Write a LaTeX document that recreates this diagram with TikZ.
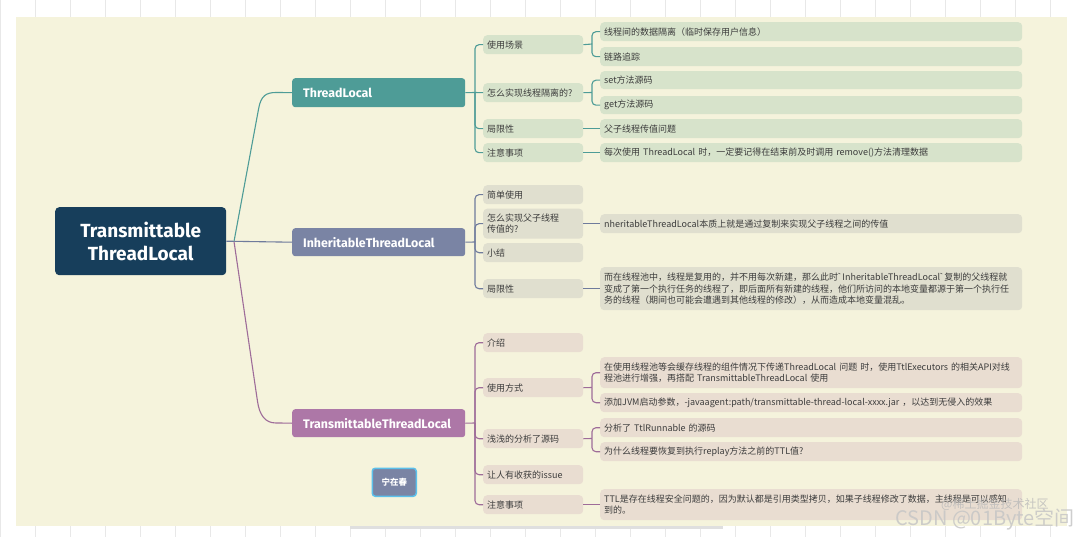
\documentclass[tikz,border=0pt]{standalone}
\usepackage{fontspec}
\setmainfont{Noto Sans CJK SC}
\newfontfamily\fira{Fira Sans}
\definecolor{cream}{HTML}{F5F3DC}
\definecolor{gridc}{HTML}{E8E8E8}
\definecolor{rootc}{HTML}{173E5B}
\definecolor{tlc}{HTML}{4E9C97}
\definecolor{inc}{HTML}{7A84A4}
\definecolor{ttc}{HTML}{AD77A7}
\definecolor{tlbox}{HTML}{D7E3CB}
\definecolor{inbox}{HTML}{E0DFCF}
\definecolor{ttbox}{HTML}{E9DDD1}
\definecolor{txt}{HTML}{3C3C3C}
\definecolor{tlln}{HTML}{4E9C97}
\definecolor{inln}{HTML}{6F7B9C}
\definecolor{ttln}{HTML}{9E6C99}
\definecolor{signb}{HTML}{5BC0EB}
\tikzset{
  topic/.style={anchor=north west, rounded corners=3pt, text width=151pt, inner xsep=11pt, inner ysep=0pt,
    minimum height=29pt, align=left, text=white, font=\fira\bfseries\fontsize{12.4}{14}\selectfont},
  sub/.style={anchor=north west, rounded corners=4pt, text width=92pt, inner xsep=4pt, inner ysep=0pt,
    minimum height=19pt, align=left, text=txt, font=\fontsize{9}{11.5}\selectfont},
  leaf/.style={sub, text width=414pt},
  conn/.style={line width=1.1pt, rounded corners=4pt},
  tlconn/.style={conn, draw=tlln},
  inconn/.style={conn, draw=inln},
  ttconn/.style={conn, draw=ttln},
}
\begin{document}
\begin{tikzpicture}[x=1pt,y=-1pt]
\useasboundingbox (0,0) rectangle (1083,537);
\fill[white] (0,0) rectangle (1083,537);
\foreach \x in {0,35,...,1085} \draw[gridc, line width=0.8pt] (\x,0) -- (\x,537);
\fill[cream] (16,17) rectangle (1067,526);
\fill[gray!25] (350,526) rectangle (723,529);

% root and topics
\node[anchor=north west, fill=rootc, rounded corners=4pt, minimum width=171pt, minimum height=68pt,
  align=center, text=white, font=\fira\bfseries\fontsize{19}{23}\selectfont] (root) at (55,207) {Transmittable\\ThreadLocal};
\node[topic, fill=tlc] (tl) at (292,78) {ThreadLocal};
\node[topic, fill=inc, minimum height=28pt] (inh) at (292,228) {InheritableThreadLocal};
\node[topic, fill=ttc, minimum height=28pt] (ttl) at (292,409) {TransmittableThreadLocal};
\node[anchor=north west, fill=inc, draw=signb, line width=1.5pt, rounded corners=3pt, minimum width=44pt,
  minimum height=28pt, inner sep=0pt, text=white, font=\bfseries\fontsize{8.5}{10}\selectfont] (sign) at (371.5,467.5) {宁在春};

% ThreadLocal branch
\node[sub, fill=tlbox] (tl1) at (483,35) {使用场景};
\node[sub, fill=tlbox] (tl2) at (483,83) {怎么实现线程隔离的?};
\node[sub, fill=tlbox] (tl3) at (483,119) {局限性};
\node[sub, fill=tlbox] (tl4) at (483,143) {注意事项};
\node[leaf, fill=tlbox] (tl1a) at (600,22) {线程间的数据隔离（临时保存用户信息）};
\node[leaf, fill=tlbox] (tl1b) at (600,47) {链路追踪};
\node[leaf, fill=tlbox, minimum height=18pt] (tl2a) at (600,71) {set方法源码};
\node[leaf, fill=tlbox, minimum height=18pt] (tl2b) at (600,96) {get方法源码};
\node[leaf, fill=tlbox] (tl3a) at (600,119) {父子线程传值问题};
\node[leaf, fill=tlbox] (tl4a) at (600,143) {每次使用 ThreadLocal 时，一定要记得在结束前及时调用 remove()方法清理数据};

% Inheritable branch
\node[sub, fill=inbox] (in1) at (483,185) {简单使用};
\node[sub, fill=inbox, minimum height=30pt] (in2) at (483,208.5) {怎么实现父子线程\\传值的?};
\node[sub, fill=inbox] (in3) at (483,243) {小结};
\node[sub, fill=inbox] (in4) at (483,279) {局限性};
\node[leaf, fill=inbox] (in2a) at (600,214) {nheritableThreadLocal本质上就是通过复制来实现父子线程之间的传值};
\node[leaf, fill=inbox, minimum height=43pt] (in4a) at (600,267) {而在线程池中，线程是复用的，并不用每次新建，那么此时{\fira\symbol{96}}\,InheritableThreadLocal{\fira\symbol{96}}\,复制的父线程就\\变成了第一个执行任务的线程了，即后面所有新建的线程，他们所访问的本地变量都源于第一个执行任\\务的线程（期间也可能会遭遇到其他线程的修改），从而造成本地变量混乱。};

% Transmittable branch
\node[sub, fill=ttbox] (tt1) at (483,333) {介绍};
\node[sub, fill=ttbox] (tt2) at (483,378) {使用方式};
\node[sub, fill=ttbox] (tt3) at (483,429) {浅浅的分析了源码};
\node[sub, fill=ttbox] (tt4) at (483,465) {让人有收获的issue};
\node[sub, fill=ttbox] (tt5) at (483,495) {注意事项};
\node[leaf, fill=ttbox, minimum height=31pt] (tt2a) at (600,357) {在使用线程池等会缓存线程的组件情况下传递ThreadLocal 问题 时，使用TtlExecutors 的相关API对线\\程池进行增强，再搭配 TransmittableThreadLocal 使用};
\node[leaf, fill=ttbox] (tt2b) at (600,393) {添加JVM启动参数，-javaagent:path/transmittable-thread-local-xxxx.jar ，以达到无侵入的效果};
\node[leaf, fill=ttbox] (tt3a) at (600,418) {分析了 TtlRunnable 的源码};
\node[leaf, fill=ttbox] (tt3b) at (600,442) {为什么线程要恢复到执行replay方法之前的TTL值?};
\node[leaf, fill=ttbox, minimum height=31pt] (tt5a) at (600,489) {TTL是存在线程安全问题的，因为默认都是引用类型拷贝，如果子线程修改了数据，主线程是可以感知\\到的。};

% root connectors
\coordinate (r0) at (234,241.5);
\draw[inconn] (root.east) -- (inh.west);
\draw[tlconn] (r0) -- (258,112) .. controls (261,96) and (266,92.5) .. (280,92.5) -- (tl.west);
\draw[ttconn] (r0) -- (257,398) .. controls (259.6,415) and (265,423) .. (280,423) -- (ttl.west);

% ThreadLocal connectors
\coordinate (stl) at (475,92.5);
\draw[tlconn] (tl.east) -- (stl);
\foreach \c in {tl1,tl3,tl4} \draw[tlconn] (stl) |- (\c.west);
\draw[tlconn] (stl) -- (tl2.west);
\coordinate (stl1) at (592,44);
\draw[tlconn] (tl1.east) -- (stl1);
\foreach \c in {tl1a,tl1b} \draw[tlconn] (stl1) |- (\c.west);
\coordinate (stl2) at (592,92.5);
\draw[tlconn] (tl2.east) -- (stl2);
\foreach \c in {tl2a,tl2b} \draw[tlconn] (stl2) |- (\c.west);
\draw[tlconn] (tl3.east) -- (tl3a.west);
\draw[tlconn] (tl4.east) -- (tl4a.west);

% Inheritable connectors
\coordinate (sin) at (475,242);
\draw[inconn] (inh.east) -- (sin);
\foreach \c in {in1,in2,in3,in4} \draw[inconn] (sin) |- (\c.west);
\draw[inconn] (in2.east) -- (in2a.west);
\draw[inconn] (in4.east) -- (in4a.west);

% Transmittable connectors
\coordinate (stt) at (475,423);
\draw[ttconn] (ttl.east) -- (stt);
\foreach \c in {tt1,tt2,tt3,tt4,tt5} \draw[ttconn] (stt) |- (\c.west);
\coordinate (stt2) at (592,387.5);
\draw[ttconn] (tt2.east) -- (stt2);
\foreach \c in {tt2a,tt2b} \draw[ttconn] (stt2) |- (\c.west);
\coordinate (stt3) at (592,438.5);
\draw[ttconn] (tt3.east) -- (stt3);
\foreach \c in {tt3a,tt3b} \draw[ttconn] (stt3) |- (\c.west);
\draw[ttconn] (tt5.east) -- (tt5a.west);

% watermark
\node[anchor=west, text=gray!55, opacity=0.8, inner sep=0pt, font=\fontsize{12}{12}\selectfont] (wm1) at (941,504) {@稀土掘金技术社区};
\node[anchor=west, text=gray!45, opacity=0.85, inner sep=0pt, font=\fontsize{20}{20}\selectfont] (wm2) at (895,519) {CSDN @01Byte空间};
\end{tikzpicture}
\end{document}
